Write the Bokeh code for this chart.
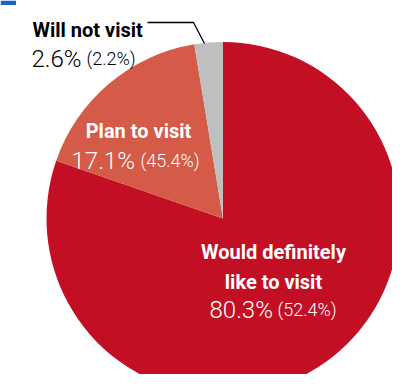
import math
from bokeh.plotting import figure
from bokeh.models import ColumnDataSource, Range1d
from bokeh.core.properties import value
from bokeh.embed import file_html
from bokeh.resources import INLINE

# ---- data ----
categories = ["Would definitely like to visit", "Plan to visit", "Will not visit"]
label_lines = [["Would definitely", "like to visit"], ["Plan to visit"], ["Will not visit"]]
shares = [80.3, 17.1, 2.6]          # current survey (%)
previous = [52.4, 45.4, 2.2]        # previous survey (%)
colors = ["#C30F24", "#D35B48", "#BEC0C0"]

W, H = 392, 374


def py(y):
    # picture y (top-down) -> data y (bottom-up)
    return H - y


p = figure(width=W, height=H, output_backend="svg", toolbar_location=None,
           x_range=Range1d(0, W), y_range=Range1d(0, H), min_border=0)
p.axis.visible = False
p.grid.visible = False
p.outline_line_color = None
p.background_fill_color = "white"
p.border_fill_color = "white"

# pie wedges, clockwise from 12 o'clock
total = sum(shares)
starts, ends = [], []
cum = 0.0
for v in shares:
    starts.append(math.pi / 2 - 2 * math.pi * cum / total)
    cum += v
    ends.append(math.pi / 2 - 2 * math.pi * cum / total)

src = ColumnDataSource(dict(cat=categories, start=starts, end=ends, color=colors))
p.wedge(x=222.5, y=py(218), radius=176.5, start_angle="start", end_angle="end",
        direction="clock", fill_color="color", line_color=None, source=src)

# small blue tab at top-left
p.quad(left=0, right=15.5, top=py(0), bottom=py(4.5), fill_color="#1565C0", line_color=None)

# leader line for "Will not visit"
p.line(x=[147, 193, 204], y=[py(22), py(22), py(43)], line_color="black", line_width=1.3)

BOLD = value("Roboto")
LIGHT = value("'Roboto Light', 'Lato Light', Roboto")

# label placements (layout only)
layout = [
    dict(x=273, ys=[251, 281], align="center", color="white", nx=209, ny=309, px=277),
    dict(x=138, ys=[130], align="center", color="white", nx=71, ny=160, px=140),
    dict(x=32, ys=[29.5], align="left", color="black", nx=31, ny=58, px=86),
]

for lines, v, pv, L in zip(label_lines, shares, previous, layout):
    for txt, yy in zip(lines, L["ys"]):
        p.text(x=[L["x"]], y=[py(yy)], text=[txt], text_align=L["align"],
               text_baseline="alphabetic", text_color=L["color"],
               text_font=BOLD, text_font_style="bold", text_font_size="20px")
    p.text(x=[L["nx"]], y=[py(L["ny"])], text=[f"{v}%"], text_align="left",
           text_baseline="alphabetic", text_color=L["color"],
           text_font=LIGHT, text_font_size="24px")
    p.text(x=[L["px"]], y=[py(L["ny"])], text=[f"({pv}%)"], text_align="left",
           text_baseline="alphabetic", text_color=L["color"],
           text_font=LIGHT, text_font_size="18px")

open("out.html", "w").write(file_html(p, INLINE))
